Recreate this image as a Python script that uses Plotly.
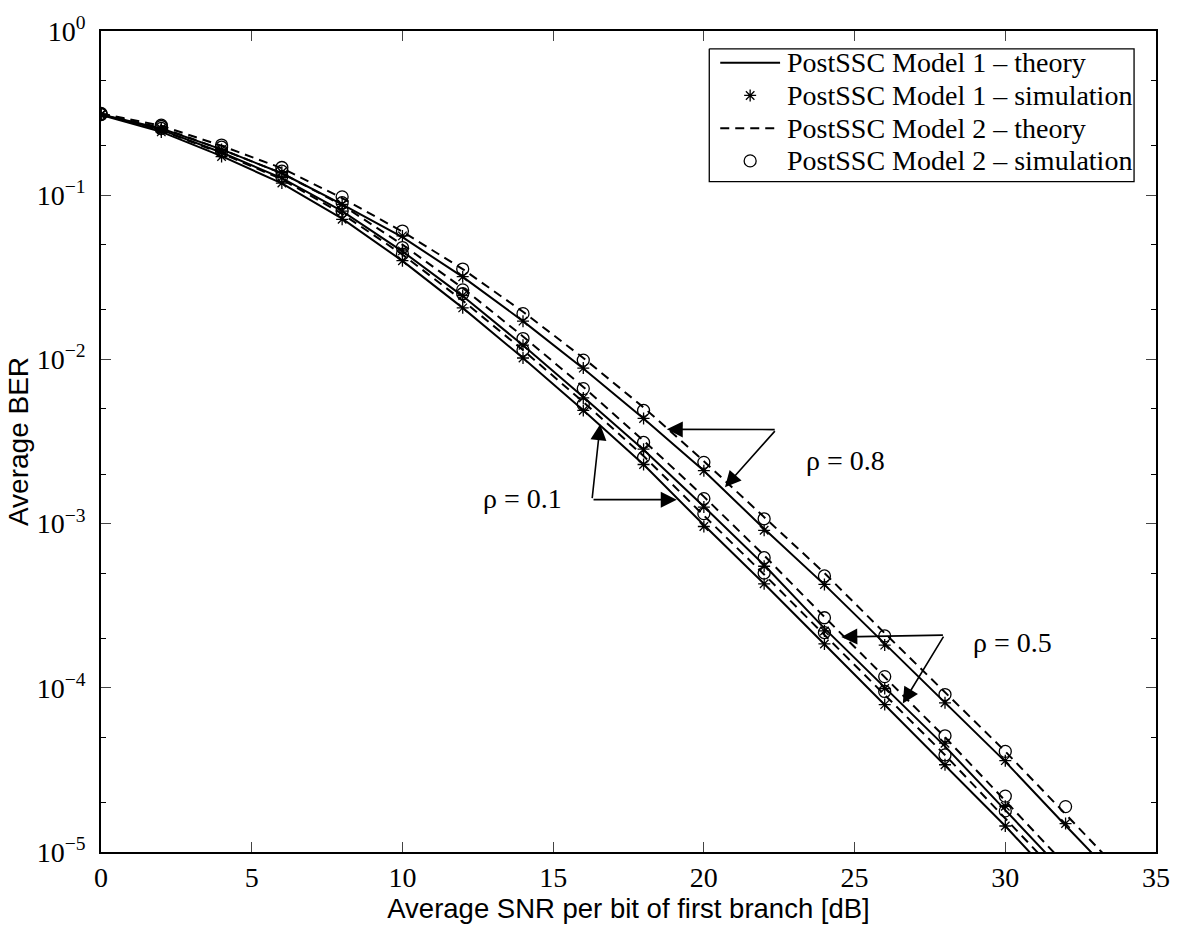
import math
import plotly.graph_objects as go

# ---------------- data ----------------
snr_sim = [0, 2, 4, 6, 8, 10, 12, 14, 16, 18, 20, 22, 24, 26, 28, 30, 32]
snr_theory = [0, 2, 4, 6, 8, 10, 12, 14, 16, 18, 20, 22, 24, 26, 28, 30, 32, 34]

# Model 1 theory (solid)
m1_theory_r08 = [0.31, 0.255, 0.19, 0.136, 0.088, 0.0555, 0.0318, 0.0171, 0.0088, 0.00437, 0.0021,
                 9.3e-4, 4.25e-4, 1.85e-4, 8.1e-5, 3.55e-5, 1.45e-5, 6.0e-6]
m1_theory_r05 = [0.31, 0.25, 0.182, 0.127, 0.08, 0.0455, 0.0243, 0.0122, 0.0059, 0.00282, 0.00127,
                 5.6e-4, 2.3e-4, 1.0e-4, 4.4e-5, 1.8e-5, 7.3e-6, 3.0e-6]
m1_theory_r01 = [0.308, 0.243, 0.173, 0.118, 0.072, 0.0398, 0.0206, 0.0102, 0.0049, 0.00229, 9.8e-4,
                 4.3e-4, 1.84e-4, 7.9e-5, 3.4e-5, 1.44e-5, 5.8e-6, 2.4e-6]
# Model 2 theory (dashed)
m2_theory_r08 = [0.315, 0.265, 0.2, 0.146, 0.096, 0.06, 0.0355, 0.0195, 0.0102, 0.0051, 0.0024,
                 1.1e-3, 5.0e-4, 2.15e-4, 9.4e-5, 4.1e-5, 1.7e-5, 7.0e-6]
m2_theory_r05 = [0.312, 0.258, 0.19, 0.136, 0.087, 0.05, 0.0272, 0.0138, 0.0068, 0.0032, 0.00146,
                 6.4e-4, 2.7e-4, 1.17e-4, 5.0e-5, 2.05e-5, 8.4e-6, 3.4e-6]
m2_theory_r01 = [0.31, 0.248, 0.18, 0.125, 0.077, 0.0435, 0.0228, 0.0114, 0.0055, 0.00258, 1.12e-3,
                 4.9e-4, 2.1e-4, 9.0e-5, 3.9e-5, 1.6e-5, 6.5e-6, 2.7e-6]

# Model 1 simulation (*)
m1_sim_r08 = [0.31, 0.255, 0.19, 0.138, 0.088, 0.0565, 0.0319, 0.0171, 0.00885, 0.00437, 0.0021,
              9.1e-4, 4.26e-4, 1.82e-4, 8.1e-5, 3.6e-5, 1.49e-5]
m1_sim_r05 = [0.31, 0.25, 0.183, 0.128, 0.08, 0.0458, 0.0245, 0.0122, 0.00583, 0.00284, 0.00126,
              5.5e-4, 2.22e-4, 9.9e-5, 4.6e-5, 1.9e-5]
m1_sim_r01 = [0.308, 0.243, 0.172, 0.1186, 0.0713, 0.0399, 0.0206, 0.0102, 0.00489, 0.00229, 9.6e-4,
              4.3e-4, 1.85e-4, 7.9e-5, 3.4e-5, 1.44e-5]
# Model 2 simulation (o)
m2_sim_r08 = [0.315, 0.267, 0.202, 0.1475, 0.0977, 0.0605, 0.0355, 0.019, 0.0099, 0.00489, 0.00236,
              1.07e-3, 4.8e-4, 2.07e-4, 9.1e-5, 4.1e-5, 1.89e-5]
m2_sim_r05 = [0.312, 0.262, 0.196, 0.14, 0.09, 0.048, 0.0265, 0.0134, 0.00664, 0.00312, 0.00142,
              6.2e-4, 2.67e-4, 1.17e-4, 5.1e-5, 2.19e-5]
m2_sim_r01 = [0.31, 0.255, 0.185, 0.13, 0.08, 0.0438, 0.0251, 0.0114, 0.00531, 0.00253, 0.00115,
              5.0e-4, 2.17e-4, 9.5e-5, 3.9e-5, 1.78e-5]

x_ticks = [0, 5, 10, 15, 20, 25, 30, 35]
y_tickvals = [1e-5, 1e-4, 1e-3, 1e-2, 1e-1, 1]
y_ticktext = ["10<sup>\u22125</sup>", "10<sup>\u22124</sup>", "10<sup>\u22123</sup>",
              "10<sup>\u22122</sup>", "10<sup>\u22121</sup>", "10<sup>0</sup>"]

legend_names = ["PostSSC Model 1 \u2013 theory", "PostSSC Model 1 \u2013 simulation",
                "PostSSC Model 2 \u2013 theory", "PostSSC Model 2 \u2013 simulation"]

# ---------------- figure ----------------
SERIF = "Liberation Serif, Times New Roman, serif"
SANS = "Liberation Sans, Arial, sans-serif"
DASH = "9px,6px"

fig = go.Figure()

theory_sets = [(m1_theory_r08, m1_theory_r05, m1_theory_r01, "solid"),
               (m2_theory_r08, m2_theory_r05, m2_theory_r01, DASH)]
sim_sets = [(m1_sim_r08, m1_sim_r05, m1_sim_r01, "asterisk-open", 10),
            (m2_sim_r08, m2_sim_r05, m2_sim_r01, "circle-open", 12)]

for a, b, c, dash in theory_sets:
    for ys in (a, b, c):
        fig.add_trace(go.Scatter(x=snr_theory[:len(ys)], y=ys, mode="lines",
                                 line=dict(color="black", width=2, dash=dash),
                                 showlegend=False, hoverinfo="x+y"))
for a, b, c, sym, sz in sim_sets:
    for ys in (a, b, c):
        fig.add_trace(go.Scatter(x=snr_sim[:len(ys)], y=ys, mode="markers",
                                 marker=dict(symbol=sym, size=sz, color="black",
                                             line=dict(color="black", width=1.3)),
                                 showlegend=False, hoverinfo="x+y"))

# ---------------- legend (drawn on an overlay axis in pixel units) ----------------
BOX_L, BOX_R, BOX_T, BOX_B = 711, 1137, 48, 182
ROW_Y = [62, 95, 128, 161]
SAMPLE_X0, SAMPLE_X1, TEXT_X = 722, 782, 787
fig.add_trace(go.Scatter(
    x=[BOX_L, BOX_R, BOX_R, BOX_L, BOX_L], y=[BOX_T, BOX_T, BOX_B, BOX_B, BOX_T],
    mode="lines", fill="toself", fillcolor="white",
    line=dict(color="black", width=1.3), xaxis="x2", yaxis="y2",
    showlegend=False, hoverinfo="skip"))
legend_styles = [("line", "solid"), ("marker", ("asterisk-open", 10)),
                 ("line", DASH), ("marker", ("circle-open", 12))]
for (kind, st), ry, name in zip(legend_styles, ROW_Y, legend_names):
    if kind == "line":
        fig.add_trace(go.Scatter(x=[SAMPLE_X0, SAMPLE_X1], y=[ry, ry], mode="lines",
                                 line=dict(color="black", width=2, dash=st),
                                 xaxis="x2", yaxis="y2", showlegend=False, hoverinfo="skip"))
    else:
        fig.add_trace(go.Scatter(x=[(SAMPLE_X0 + SAMPLE_X1) / 2], y=[ry], mode="markers",
                                 marker=dict(symbol=st[0], size=st[1], color="black",
                                             line=dict(color="black", width=1.3)),
                                 xaxis="x2", yaxis="y2", showlegend=False, hoverinfo="skip"))
    fig.add_annotation(x=TEXT_X, y=ry, xref="x2", yref="y2", text=name, showarrow=False,
                       xanchor="left", yanchor="middle",
                       font=dict(family=SERIF, size=28, color="black"))


def L(v):
    return math.log10(v)


arrows = [
    # rho = 0.8 (vertex -> heads)
    ((22.4, 10 ** -2.4275), (18.77, 10 ** -2.426)),
    ((22.4, 10 ** -2.4275), (20.70, 10 ** -2.778)),
    # rho = 0.5
    ((27.98, 10 ** -3.679), (24.56, 10 ** -3.690)),
    ((27.98, 10 ** -3.679), (26.60, 10 ** -4.096)),
    # rho = 0.1
    ((16.29, 10 ** -2.854), (16.56, 10 ** -2.395)),
    ((16.29, 10 ** -2.854), (19.10, 10 ** -2.854)),
]
for (tx, ty), (hx, hy) in arrows:
    fig.add_annotation(x=hx, y=L(hy), ax=tx, ay=L(ty), xref="x", yref="y",
                       axref="x", ayref="y", text="", showarrow=True,
                       arrowhead=2, arrowsize=2.0, arrowwidth=1.6, arrowcolor="black")

labels = [("\u03c1 = 0.8", 24.7, 10 ** -2.615),
          ("\u03c1 = 0.5", 30.24, 10 ** -3.724),
          ("\u03c1 = 0.1", 13.97, 10 ** -2.848)]
for t, lx, ly in labels:
    fig.add_annotation(x=lx, y=L(ly), xref="x", yref="y", text=t, showarrow=False,
                       font=dict(family=SERIF, size=28, color="black"))

fig.update_layout(
    width=1182, height=927,
    margin=dict(l=101, r=23, t=30, b=69),
    paper_bgcolor="white", plot_bgcolor="white",
    font=dict(family=SERIF, color="black", size=26),
    showlegend=False,
    xaxis2=dict(overlaying="x", range=[101, 1159], visible=False, fixedrange=True),
    yaxis2=dict(overlaying="y", range=[858, 30], visible=False, fixedrange=True),
)

fig.update_xaxes(
    selector=dict(anchor="y"),
    range=[0, 35], tickvals=x_ticks, ticks="inside", ticklen=10, tickwidth=1.3,
    showline=True, linecolor="black", linewidth=1.6, mirror="ticks",
    showgrid=False, zeroline=False,
    tickfont=dict(family=SERIF, size=28, color="black"),
    title=dict(text="Average SNR per bit of first branch [dB]",
               font=dict(family=SANS, size=27.5, color="black"), standoff=2),
)
fig.layout.xaxis.update(range=[0, 35], tickvals=x_ticks, ticks="inside", ticklen=10, tickwidth=1.3,
                        showline=True, linecolor="black", linewidth=1.6, mirror="ticks",
                        showgrid=False, zeroline=False,
                        tickfont=dict(family=SERIF, size=28, color="black"),
                        title=dict(text="Average SNR per bit of first branch [dB]",
                                   font=dict(family=SANS, size=27.5, color="black"), standoff=2))
fig.layout.yaxis.update(
    type="log", range=[-5, 0], tickvals=y_tickvals, ticktext=y_ticktext,
    ticks="inside", ticklen=10, tickwidth=1.3, ticklabelstandoff=8,
    showline=True, linecolor="black", linewidth=1.6, mirror="ticks",
    showgrid=False, zeroline=False,
    minor=dict(ticks="inside", ticklen=5, tickwidth=1, tickcolor="black", showgrid=False),
    tickfont=dict(family=SERIF, size=28, color="black"),
    title=dict(text="Average BER", font=dict(family=SANS, size=28, color="black"), standoff=0),
)

fig.write_html("out.html")
